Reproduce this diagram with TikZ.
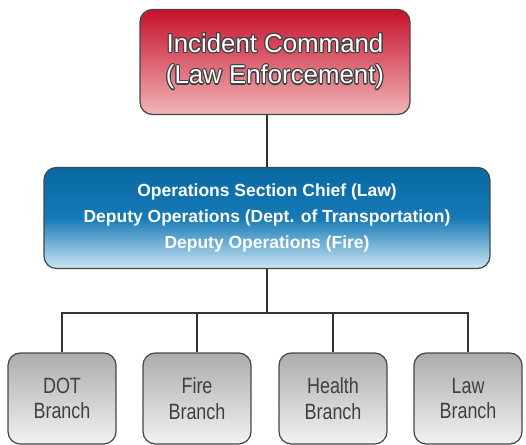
\documentclass[tikz,border=0pt]{standalone}
\usepackage{fontspec}
\setmainfont{Liberation Sans}
\newfontfamily\narrowfont{Liberation Sans}[FakeStretch=0.81]
\usepackage{contour}
\contourlength{0.6pt}
\usetikzlibrary{positioning}
\definecolor{cmdtop}{RGB}{200,16,46}
\definecolor{cmdbot}{RGB}{240,182,182}
\definecolor{opstop}{RGB}{8,104,163}
\definecolor{opsmid}{RGB}{22,122,182}
\definecolor{opsbot}{RGB}{205,230,244}
\definecolor{brtop}{RGB}{172,172,172}
\definecolor{brbot}{RGB}{242,242,242}
\definecolor{edgegray}{RGB}{70,70,70}
\begin{document}
\begin{tikzpicture}[
        x=0.02cm, y=0.02cm,
        box_style/.style={draw=edgegray, line width=0.7pt, rounded corners=7pt, align=center},
        cmd_style/.style={box_style, top color=cmdtop, bottom color=cmdbot,
            minimum width=5.4cm, minimum height=2.1cm, font=\fontsize{14.7}{18}\selectfont, text=white},
        ops_style/.style={box_style, top color=opstop, bottom color=opsbot, middle color=opsmid,
            minimum width=8.92cm, minimum height=2.02cm, font=\bfseries\fontsize{9.95}{14.7}\selectfont, text=white},
        branch_style/.style={box_style, top color=brtop, bottom color=brbot,
            minimum width=2.16cm, minimum height=1.82cm, font=\narrowfont\fontsize{12.6}{14.4}\selectfont, text=black!75},
        link_style/.style={draw=black!80, line width=0.9pt}
    ]
        \useasboundingbox (0,0) rectangle (526,445);

        % Boxes
        \node[cmd_style] (cmd) at (275,383) {\contour{black!75}{Incident Command}\\\contour{black!75}{(Law Enforcement)}};
        \node[ops_style] (ops) at (267,227) {Operations Section Chief (Law)\\Deputy Operations (Dept. of Transportation)\\Deputy Operations (Fire)};
        \node[branch_style] (dot) at (62,46.5) {DOT\\Branch};
        \node[branch_style] (fire) at (197,46.5) {Fire\\Branch};
        \node[branch_style] (health) at (333,46.5) {Health\\Branch};
        \node[branch_style] (law) at (468,46.5) {Law\\Branch};

        % Links
        \coordinate (bus) at (267,132);
        \draw[link_style] (ops.north) -- (ops.north |- cmd.south);
        \draw[link_style] (ops.south) -- (bus);
        \draw[link_style] (dot.north) -- (dot.north |- bus) -- (law.north |- bus) -- (law.north);
        \draw[link_style] (fire.north) -- (fire.north |- bus);
        \draw[link_style] (health.north) -- (health.north |- bus);
    \end{tikzpicture}
\end{document}
